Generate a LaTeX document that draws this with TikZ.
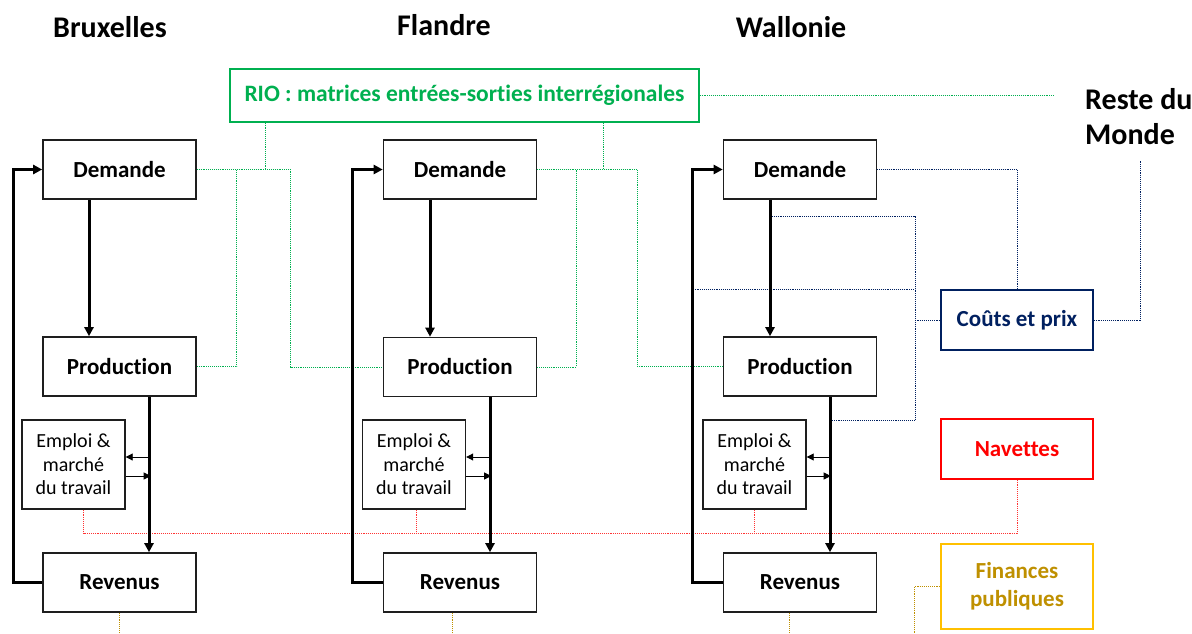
\documentclass[tikz,border=0pt]{standalone}
\usepackage{fontspec}
\setmainfont{Carlito}[Ligatures={NoCommon}]
\usetikzlibrary{arrows.meta}
\definecolor{rgreen}{RGB}{0,176,80}
\definecolor{navy}{RGB}{0,32,96}
\definecolor{nred}{RGB}{255,0,0}
\definecolor{gold}{RGB}{191,144,0}
\definecolor{gborder}{RGB}{255,192,0}
\definecolor{boxline}{RGB}{30,30,30}
\begin{document}
\begin{tikzpicture}[x=1pt,y=-1pt,
 box/.style={draw=boxline,line width=1.6pt,minimum width=153pt,minimum height=59pt,inner sep=0pt,font=\fontsize{23}{27}\selectfont\bfseries},
 ebox/.style={draw=boxline,line width=1.4pt,minimum width=103pt,minimum height=89pt,inner sep=0pt,align=center,font=\fontsize{20}{23.5}\selectfont},
 hdr/.style={inner sep=0pt,font=\fontsize{30}{35}\selectfont\bfseries},
 flow/.style={line width=3pt,-{Triangle[length=9pt,width=9pt]}},
 fback/.style={line width=3pt,-{Triangle[length=9pt,width=9pt]}},
 smallarr/.style={line width=0.9pt,-{Triangle[length=7pt,width=7pt]}},
 lnk/.style={densely dotted,line width=0.9pt},
 ]
\useasboundingbox (0,0) rectangle (1192,634);
\fill[white] (0,0) rectangle (1192,634);

% headers
\node[hdr] (hb) at (110,27) {Bruxelles};
\node[hdr] (hf) at (444,25) {Flandre};
\node[hdr] (hw) at (791,27) {Wallonie};
\node[hdr,anchor=west,align=left] (rdm) at (1085,117) {Reste du\\Monde};

% RIO
\node[draw=rgreen,line width=1.5pt,minimum width=469pt,minimum height=53pt,inner sep=0pt,text=rgreen,font=\fontsize{23.5}{27}\selectfont\bfseries] (rio) at (464.5,95.5) {RIO : matrices entrées-sorties interrégionales};

% Bruxelles
\node[box] (bd) at (119.5,169.5) {Demande};
\node[box] (bp) at (119.5,366.5) {Production};
\node[ebox] (be) at (73.5,464.5) {Emploi \&\\marché\\du travail};
\node[box] (br) at (119.5,582.5) {Revenus};

% Flandre
\node[box] (fd) at (460,169.5) {Demande};
\node[box] (fp) at (460,367) {Production};
\node[ebox] (fe) at (414,464.5) {Emploi \&\\marché\\du travail};
\node[box] (fr) at (460,582.5) {Revenus};

% Wallonie
\node[box] (wd) at (800,169.5) {Demande};
\node[box] (wp) at (800,366.5) {Production};
\node[ebox] (we) at (754.5,464.5) {Emploi \&\\marché\\du travail};
\node[box] (wr) at (800,582.5) {Revenus};

% side boxes
\node[box,draw=navy,text=navy,line width=1.5pt,minimum width=152pt,minimum height=60pt] (cp) at (1017,320) {Coûts et prix};
\node[box,draw=nred,text=nred,line width=1.5pt,minimum width=152pt,minimum height=60pt] (nv) at (1017,449) {Navettes};
\node[box,draw=gborder,text=gold,line width=1.5pt,minimum width=152pt,minimum height=85pt,align=center,font=\fontsize{23}{28}\selectfont\bfseries] (fin) at (1017,586.5) {Finances\\publiques};

% coordinates
\coordinate (gx1) at (265,0);
\coordinate (gx2) at (603,0);
\coordinate (rioend) at (1055,95.5);
\coordinate (rdmpt) at (1140,161);
\coordinate (ntop) at (915,216);
\coordinate (nbot) at (915,420);
\coordinate (wa) at ([xshift=-30pt]wd.south);
\coordinate (wb) at ([xshift=30pt]wp.south);
\coordinate (wl) at ([xshift=-30pt]wr.west);
\coordinate (ry) at (0,533);
\coordinate (by) at (0,634);
\coordinate (e1) at ([xshift=10pt]be.south);
\coordinate (e2) at ([xshift=2pt]fe.south);
\coordinate (e3) at (we.south);
\coordinate (fx) at (914,634);

% green links
\begin{scope}[lnk,draw=rgreen]
\draw (bd.east) -- ++(94,0) |- (fp.west);
\draw (bp.east) -| ([xshift=40pt]bd.east);
\draw (rio.south -| gx1) -- (bd.east -| gx1);
\draw (fd.east) -- ++(100,0) |- (wp.west);
\draw (fp.east) -| ([xshift=39pt]fd.east);
\draw (rio.south -| gx2) -- (fd.east -| gx2);
\draw (rio.east) -- (rioend);
\end{scope}

% navy links
\begin{scope}[lnk,draw=navy]
\draw (wd.east) -| (cp.north);
\draw (cp.east) -| (rdmpt);
\draw (wa |- ntop) -- (ntop) -- (nbot) -- (wb |- nbot);
\draw (cp.west) -- (cp.west -| ntop);
\draw (wl |- cp.north) -- (ntop |- cp.north);
\end{scope}

% red links
\begin{scope}[lnk,draw=nred!80]
\draw (nv.south) |- (e1 |- ry);
\draw (e1) -- (e1 |- ry);
\draw (e2) -- (e2 |- ry);
\draw (e3) -- (e3 |- ry);
\end{scope}

% gold links
\begin{scope}[lnk,draw=gold]
\draw (br.south) -- (br.south |- by);
\draw ([xshift=-8pt]fr.south) -- ++(0,22);
\draw ([xshift=-11pt]wr.south) -- ++(0,22);
\draw (fin.west) -| (fx);
\end{scope}

% Bruxelles flows
\draw[flow] ([xshift=-30.5pt]bd.south) -- ([xshift=-30.5pt]bp.north);
\draw[flow] ([xshift=29.5pt]bp.south) -- ([xshift=29.5pt]br.north);
\draw[fback] (br.west) -- ++(-29,0) |- (bd.west);
\draw[smallarr] ([xshift=25pt,yshift=7.5pt]be.east) -- ([yshift=7.5pt]be.east);
\draw[smallarr] ([yshift=-11.5pt]be.east) -- ([xshift=25pt,yshift=-11.5pt]be.east);

% Flandre flows
\draw[flow] ([xshift=-30pt]fd.south) -- ([xshift=-30pt]fp.north);
\draw[flow] ([xshift=30pt]fp.south) -- ([xshift=30pt]fr.north);
\draw[fback] (fr.west) -- ++(-30,0) |- (fd.west);
\draw[smallarr] ([xshift=25pt,yshift=7.5pt]fe.east) -- ([yshift=7.5pt]fe.east);
\draw[smallarr] ([yshift=-11.5pt]fe.east) -- ([xshift=25pt,yshift=-11.5pt]fe.east);

% Wallonie flows
\draw[flow] (wa) -- ([xshift=-30pt]wp.north);
\draw[flow] (wb) -- ([xshift=30pt]wr.north);
\draw[fback] (wr.west) -- (wl) |- (wd.west);
\draw[smallarr] ([xshift=24pt,yshift=7.5pt]we.east) -- ([yshift=7.5pt]we.east);
\draw[smallarr] ([yshift=-11.5pt]we.east) -- ([xshift=24pt,yshift=-11.5pt]we.east);
\end{tikzpicture}
\end{document}
